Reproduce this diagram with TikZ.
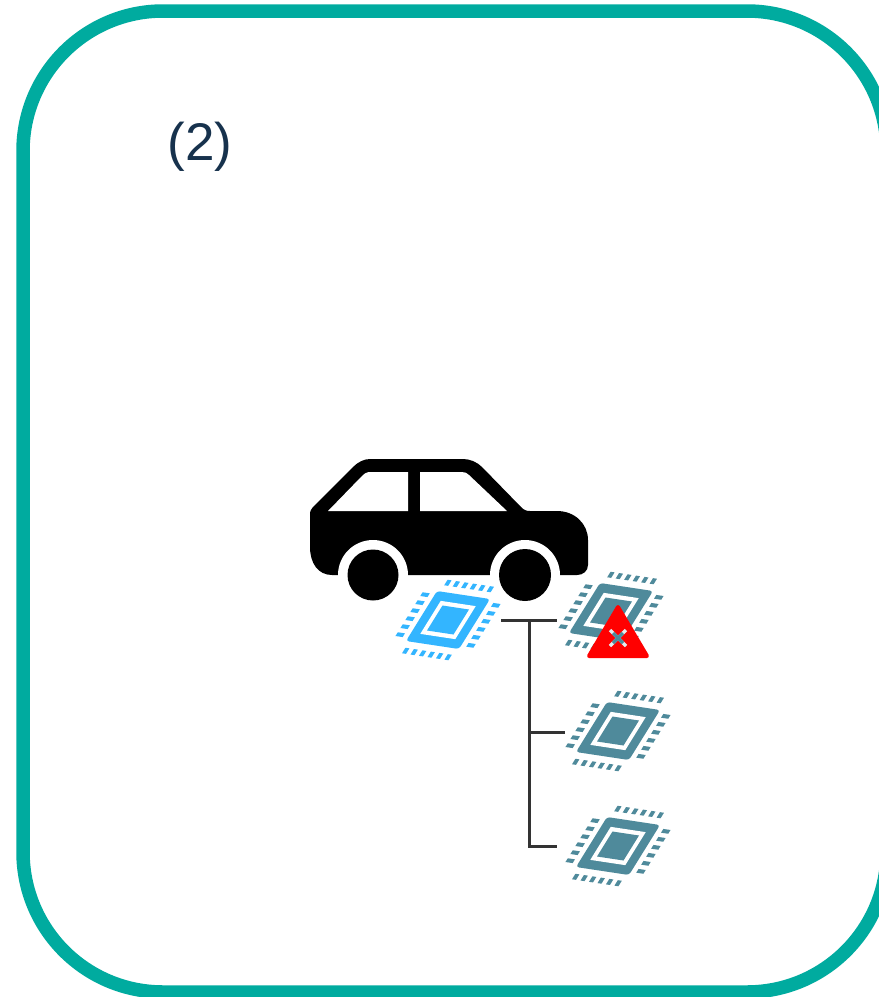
\documentclass[tikz,border=0pt]{standalone}
\usepackage{fontspec}
\setmainfont{Liberation Sans}
\definecolor{frameteal}{HTML}{00AB9F}
\definecolor{chipblue}{HTML}{33B5FF}
\definecolor{chipgrey}{HTML}{4F8A9B}
\definecolor{inktext}{HTML}{17324D}
\definecolor{wire}{HTML}{333333}
\newcommand{\quadbox}[4]{(#1,#2) -- (#3,#2) -- (#3,#4) -- (#1,#4) -- cycle}
\tikzset{
  frameline/.style={draw=frameteal,line width=13.5pt,rounded corners=140pt},
  wireline/.style={draw=wire,line width=3pt},
  pics/chip/.style={code={
    \begin{scope}[x={(26.5pt,-4pt)},y={(15.5pt,25pt)}]
      \fill[#1,rounded corners=3pt] \quadbox{-1}{-1}{1}{1};
      \fill[white] \quadbox{-.66}{-.66}{.66}{.66};
      \fill[#1] \quadbox{-.5}{-.5}{.5}{.5};
      \foreach \k in {-.8,-.48,-.16,.16,.48,.8}{
        \pgfmathsetmacro{\lo}{\k-.075}
        \pgfmathsetmacro{\hi}{\k+.075}
        \fill[#1] \quadbox{\lo}{1.25}{\hi}{1.47};
        \fill[#1] \quadbox{\lo}{-1.25}{\hi}{-1.47};
        \fill[#1] \quadbox{1.2}{\lo}{1.47}{\hi};
        \fill[#1] \quadbox{-1.2}{\lo}{-1.47}{\hi};
      }
    \end{scope}
  }}
}
\begin{document}
\begin{tikzpicture}[x=1pt,y=-1pt]
\useasboundingbox (0,0) rectangle (879,997);
\begin{scope}
  \clip (0,0) rectangle (879,997);
  \fill[white] (0,0) rectangle (879,997);
  \draw[frameline] (23,11) rectangle (887,992);
\end{scope}
\node[text=inktext,font=\fontsize{53}{60}\selectfont,inner sep=0pt] (label) at (200,147) {(2)};
% car
\fill[black] (338,575) -- (332,575) .. controls (318,575) and (310,563) .. (310,547)
  -- (310,515) .. controls (310,511) and (311,509) .. (313,507)
  -- (353,467) .. controls (358,462) and (364,459) .. (370,459)
  -- (463,459) .. controls (470,459) and (477,462) .. (482,467)
  -- (521,507) .. controls (524,510) and (526,511) .. (530,511)
  -- (557,511) .. controls (575,511) and (588,524) .. (588,540)
  -- (588,565) .. controls (588,571) and (583,575) .. (577,575) -- cycle;
\fill[white] (328,511) -- (361,477) .. controls (364,474) and (366,472) .. (370,472)
  -- (408,472) -- (408,511) -- cycle;
\fill[white] (420,472) -- (462,472) .. controls (465,472) and (467,473) .. (469,475)
  -- (507,511) -- (420,511) -- cycle;
\fill[white] (373,575) circle[radius=35pt];
\fill[white] (525,575) circle[radius=35pt];
\fill[white] (330,575.5) rectangle (580,620);
\node[circle,fill=black,minimum size=51pt,inner sep=0pt] (rearwheel) at (373,575) {};
\node[circle,fill=black,minimum size=52pt,inner sep=0pt] (frontwheel) at (525,575) {};
% chips
\pic at (448,620) {chip=chipblue};
\pic at (611,612) {chip=chipgrey};
\pic at (618,731) {chip=chipgrey};
\pic at (618,846) {chip=chipgrey};
% connectors
\coordinate (a) at (501,620);
\coordinate (b) at (557,620);
\coordinate (j1) at (529,620);
\coordinate (j2) at (529,732);
\coordinate (j3) at (529,846);
\coordinate (c) at (565,732);
\coordinate (d) at (557,846);
\draw[wireline] (a) -- (b);
\draw[wireline] (j1) -- (j3) -- (d);
\draw[wireline] (j2) -- (c);
% warning
\fill[red,draw=red,line width=4pt,line join=round] (618,607) -- (647,656) -- (589,656) -- cycle;
\draw[white!85!chipgrey,line width=3.5pt] (610,630) -- (626,646) (626,630) -- (610,646);
\draw[chipgrey,line width=3.5pt] (613,633) -- (623,643) (623,633) -- (613,643);
\end{tikzpicture}
\end{document}
